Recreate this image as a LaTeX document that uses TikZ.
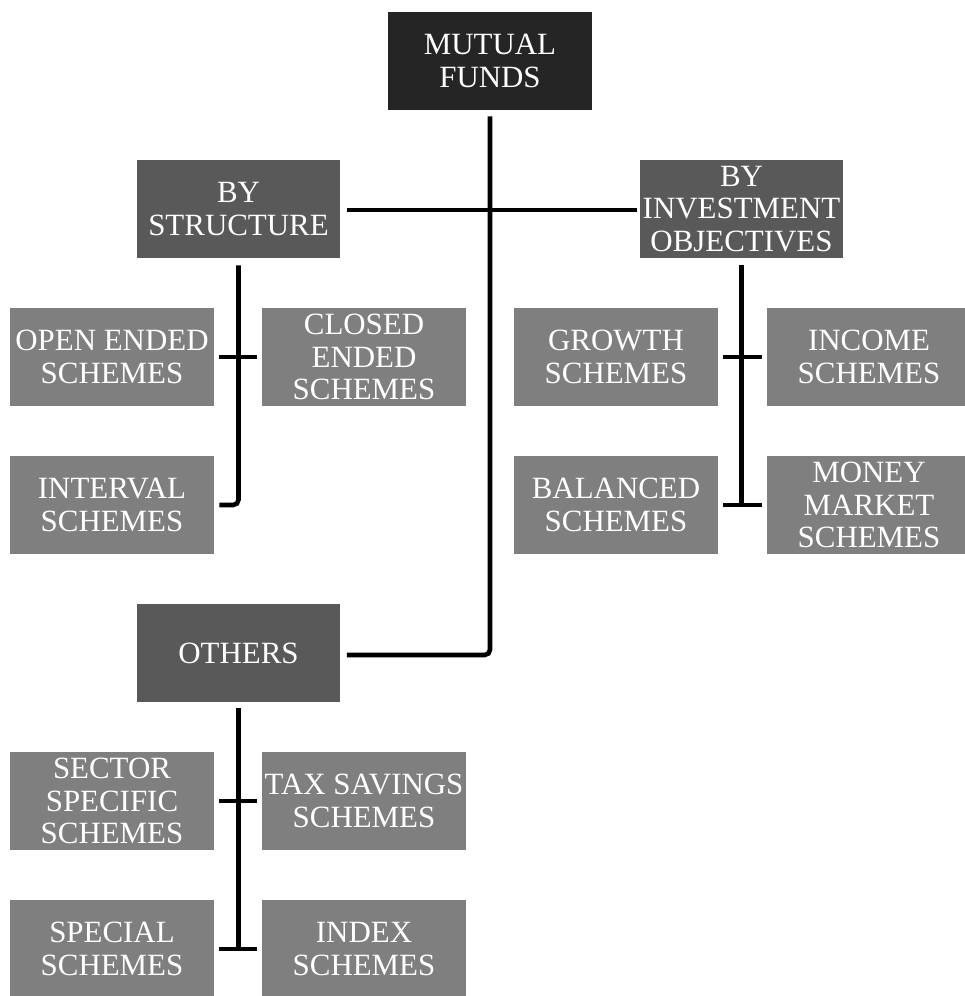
\documentclass[tikz,border=0pt]{standalone}
\usepackage{fontspec}
\setmainfont{Liberation Serif}
\usepackage{tikz}
\usetikzlibrary{calc}

\definecolor{topbox}{HTML}{252525}
\definecolor{groupbox}{HTML}{595959}
\definecolor{leafbox}{HTML}{7F7F7F}

\begin{document}
\begin{tikzpicture}[x=0.02cm, y=-0.02cm,
        box/.style={rectangle, minimum width=4.08cm, minimum height=1.96cm, inner sep=0pt,
            text=white, align=center, font=\fontsize{17.6}{18.7}\selectfont},
        topnode/.style={box, fill=topbox},
        groupnode/.style={box, fill=groupbox},
        leafnode/.style={box, fill=leafbox},
        link/.style={line width=2.6pt, black, rounded corners=3pt}]
        \useasboundingbox (0,0) rectangle (964,996);
        \node[topnode] (mf) at (490,61) {MUTUAL\\FUNDS};
        \node[groupnode] (struct) at (238.5,209) {BY\\STRUCTURE};
        \node[groupnode] (objective) at (741.5,209) {BY\\INVESTMENT\\OBJECTIVES};
        \node[groupnode] (others) at (238.5,653) {OTHERS};
        % by structure
        \node[leafnode] (open) at (112,357) {OPEN ENDED\\SCHEMES};
        \node[leafnode] (closed) at (364,357) {CLOSED\\ENDED\\SCHEMES};
        \node[leafnode] (interval) at (112,505) {INTERVAL\\SCHEMES};
        % by investment objectives
        \node[leafnode] (growth) at (616,357) {GROWTH\\SCHEMES};
        \node[leafnode] (income) at (869,357) {INCOME\\SCHEMES};
        \node[leafnode] (balanced) at (616,505) {BALANCED\\SCHEMES};
        \node[leafnode] (money) at (869,505) {MONEY\\MARKET\\SCHEMES};
        % others
        \node[leafnode] (sector) at (112,801) {SECTOR\\SPECIFIC\\SCHEMES};
        \node[leafnode] (tax) at (364,801) {TAX SAVINGS\\SCHEMES};
        \node[leafnode] (special) at (112,949) {SPECIAL\\SCHEMES};
        \node[leafnode] (index) at (364,949) {INDEX\\SCHEMES};
        % trunk
        \coordinate (T) at ($(mf.south)+(0,6)$);
        \coordinate (S) at ($(struct.east)+(6,1)$);
        \coordinate (O) at ($(objective.west)+(-2,1)$);
        \coordinate (R) at ($(others.east)+(6,2)$);
        \draw[link] (T) -- (T |- R) -- (R); \draw[link] (S) -- (O);
        % branches
        \coordinate (A) at ($(struct.south)+(0,7)$);
        \coordinate (B) at ($(objective.south)+(0,7)$);
        \coordinate (C) at ($(others.south)+(0,6)$);
        \draw[link] (A) -- (A |- interval.east) -- ($(interval.east)+(5,0)$);
        \draw[link] ($(open.east)+(5,0)$) -- ($(closed.west)+(-5,0)$);
        \draw[link] (B) -- (B |- balanced.east);
        \draw[link] ($(growth.east)+(5,0)$) -- ($(income.west)+(-5,0)$);
        \draw[link] ($(balanced.east)+(5,0)$) -- ($(money.west)+(-5,0)$);
        \draw[link] (C) -- (C |- special.east);
        \draw[link] ($(sector.east)+(5,0)$) -- ($(tax.west)+(-5,0)$);
        \draw[link] ($(special.east)+(5,0)$) -- ($(index.west)+(-5,0)$);
    \end{tikzpicture}
\end{document}
